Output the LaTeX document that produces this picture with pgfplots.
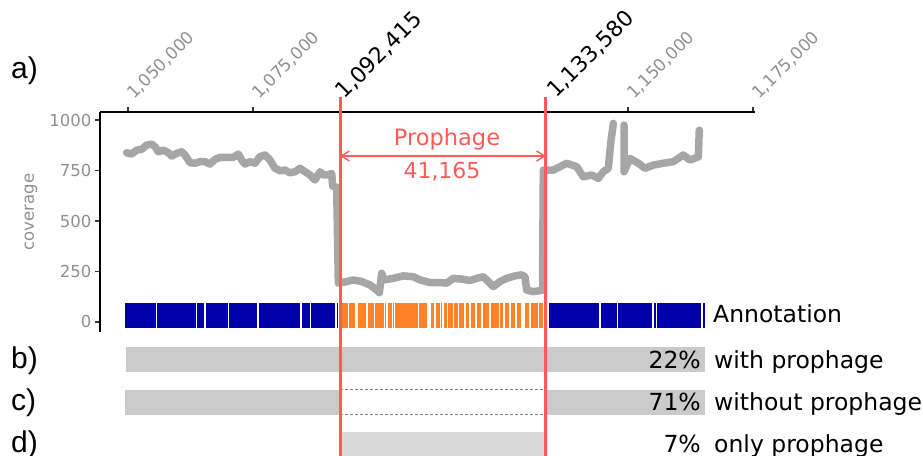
\documentclass[border=0pt]{standalone}
\usepackage{pgfplots}
\pgfplotsset{compat=1.18}
\usepackage{fontspec}
\setmainfont{DejaVu Sans}
\newfontfamily\labfont{Liberation Sans}
\usetikzlibrary{arrows.meta}
\definecolor{covgray}{HTML}{A6A6A6}
\definecolor{annblue}{HTML}{0000AA}
\definecolor{annorange}{HTML}{FF8228}
\definecolor{prored}{HTML}{FF5A5A}
\definecolor{tickgray}{HTML}{909090}
\definecolor{rowgray}{HTML}{CACACA}
\definecolor{rowlight}{HTML}{D9D9D9}

\pgfplotstableread{
x y
1049733 838
1050733 832
1051733 851
1052733 855
1053733 876
1054733 881
1055400 868
1056067 843
1057067 851
1058067 838
1058733 822
1059733 835
1060733 843
1061400 827
1062400 789
1063400 786
1064400 794
1065400 794
1066400 782
1067400 805
1068400 815
1069733 815
1071067 815
1072067 832
1072733 802
1073400 782
1074400 794
1075400 786
1076400 819
1077400 827
1078400 802
1079400 761
1080400 749
1081400 752
1082400 739
1083400 744
1084400 761
1085400 744
1086400 728
1087400 703
1088400 744
1089067 728
1090067 728
1090733 736
1090933 673
1091733 667
1092067 192
1093733 200
1095067 208
1096733 200
1098400 183
1099733 158
1100267 145
1100733 241
1101200 208
1103067 216
1105067 228
1107067 224
1108400 208
1110400 195
1112400 195
1113733 192
1115067 216
1117067 211
1118400 205
1119733 216
1121067 224
1122067 200
1123067 175
1124400 200
1125733 216
1127400 228
1128733 233
1129400 224
1129733 158
1131067 150
1132400 155
1132900 158
1133067 752
1135060 752
1137740 786
1139740 769
1141060 719
1142740 728
1144060 711
1145060 744
1146060 761
1146540 885
1147060 984
}\covA

\pgfplotstableread{
x y
1149200 975
1149200 744
1150400 810
1152060 786
1153400 761
1155060 777
1157060 786
1159060 794
1161060 827
1162400 802
1164060 818
1164260 950
}\covB

\begin{document}
\begin{tikzpicture}[x=1pt,y=1pt]
\begin{axis}[
  at={(100pt,-332pt)}, anchor=south west,
  scale only axis, width=655pt, height=220pt,
  xmin=1044400, xmax=1175400, ymin=-50, ymax=1040,
  clip=false,
  axis x line=top, axis y line=left,
  axis line style={line width=2pt, -, black},
  tick align=outside,
  major tick length=5pt,
  tick style={line width=1.5pt, black!80},
  scaled x ticks=false,
  xtick={1050000,1075000,1150000,1175000},
  xticklabels={},
  ytick={0,250,500,750,1000},
  yticklabels={0,250,500,750,1000},
  yticklabel style={text=tickgray, font=\fontsize{16.5}{16.5}\selectfont},
]
% rows b, c, d
\addplot[fill=rowgray, draw=none] coordinates {(1049600,-124) (1165400,-124) (1165400,-248) (1049600,-248)} -- cycle;
\addplot[fill=rowgray, draw=none] coordinates {(1049400,-337) (1092415,-337) (1092415,-460) (1049400,-460)} -- cycle;
\addplot[fill=rowgray, draw=none] coordinates {(1133580,-337) (1165400,-337) (1165400,-460) (1133580,-460)} -- cycle;
\addplot[gray, densely dashed, line width=0.6pt] coordinates {(1092415,-335) (1133580,-335)};
\addplot[gray, densely dashed, line width=0.6pt] coordinates {(1092415,-458) (1133580,-458)};
\addplot[fill=rowlight, draw=none] coordinates {(1092415,-545) (1133580,-545) (1133580,-720) (1092415,-720)} -- cycle;
% annotation band
\addplot[fill=annblue, draw=none] coordinates {(1049060,-30) (1092060,-30) (1092060,94) (1049060,94)} -- cycle;
\addplot[fill=annorange, draw=none] coordinates {(1092400,-30) (1133600,-30) (1133600,94) (1092400,94)} -- cycle;
\addplot[fill=annblue, draw=none] coordinates {(1134260,-30) (1165340,-30) (1165340,94) (1134260,94)} -- cycle;
\addplot[white, only marks, mark=|, mark size=12.5pt, line width=1.6pt] coordinates {
(1049200,32) (1055700,32) (1063660,32) (1065440,32) (1070100,32) (1075940,32) (1084600,32) (1086460,32) (1091600,32)
(1094060,32) (1095540,32) (1095860,32) (1097740,32) (1099260,32) (1101260,32) (1101740,32) (1102860,32) (1103260,32)
(1108060,32) (1109940,32) (1110400,32) (1111400,32) (1112460,32) (1112940,32) (1113860,32) (1115060,32) (1116060,32)
(1117400,32) (1118400,32) (1119600,32) (1120740,32) (1122400,32) (1124260,32) (1125200,32) (1126400,32) (1127600,32)
(1128740,32) (1129200,32) (1130400,32) (1132060,32) (1133060,32)
(1144400,32) (1147900,32) (1155000,32) (1155660,32) (1164740,32)
};
% coverage
\addplot[covgray, line width=7.5pt, line join=round, line cap=round] table[x=x,y=y] {\covA};
\addplot[covgray, line width=7.5pt, line join=round, line cap=round] table[x=x,y=y] {\covB};
% prophage borders
\addplot[prored, line width=3pt] coordinates {(1092415,1114) (1092415,-720)};
\addplot[prored, line width=3pt] coordinates {(1133580,1114) (1133580,-720)};
\draw[prored, line width=1.4pt, {Straight Barb[length=8pt,width=10pt]}-{Straight Barb[length=8pt,width=10pt]}]
  (axis cs:1092415,822) -- (axis cs:1133580,822);
% top tick labels
\begin{scope}[every node/.style={rotate=45, anchor=base west, inner sep=0pt, text=tickgray, font=\fontsize{17}{17}\selectfont}]
\node at ([xshift=6pt,yshift=12pt]axis cs:1050000,1040) {1,050,000};
\node at ([xshift=6pt,yshift=12pt]axis cs:1075000,1040) {1,075,000};
\node at ([xshift=6pt,yshift=12pt]axis cs:1150000,1040) {1,150,000};
\node at ([xshift=6pt,yshift=12pt]axis cs:1175000,1040) {1,175,000};
\end{scope}
\begin{scope}[every node/.style={rotate=45, anchor=base west, inner sep=0pt, text=black, font=\fontsize{22}{22}\selectfont}]
\node at ([xshift=4pt,yshift=12pt]axis cs:1092415,1040) {1,092,415};
\node at ([xshift=10pt,yshift=13pt]axis cs:1133580,1040) {1,133,580};
\end{scope}
\end{axis}
\node[anchor=base, inner sep=0pt, text=prored, font=\fontsize{22.5}{22.5}\selectfont] at (447,-145) {Prophage};
\node[anchor=base, inner sep=0pt, text=prored, font=\fontsize{22}{22}\selectfont] at (442,-178) {41,165};
\node[rotate=90, inner sep=0pt, text=tickgray, font=\fontsize{16.5}{16.5}\selectfont] at (31,-212) {coverage};
\begin{scope}[every node/.style={inner sep=0pt, font=\fontsize{23.5}{23.5}\selectfont}]
\node[anchor=base west] at (713,-322) {Annotation};
\node[anchor=base east] at (701,-368) {22\%};
\node[anchor=base west] at (714,-368) {with prophage};
\node[anchor=base east] at (701,-410) {71\%};
\node[anchor=base west] at (714,-410) {without prophage};
\node[anchor=base east] at (701,-452) {7\%};
\node[anchor=base west] at (714,-452) {only prophage};
\end{scope}
\begin{scope}[every node/.style={inner sep=0pt, anchor=base west, font=\labfont\fontsize{30}{30}\selectfont}]
\node at (11,-78) {a)};
\node at (11,-368) {b)};
\node at (11,-410) {c)};
\node at (11,-452) {d)};
\end{scope}
\pgfresetboundingbox
\path[use as bounding box] (0,0) rectangle (923,-455);
\end{tikzpicture}
\end{document}
